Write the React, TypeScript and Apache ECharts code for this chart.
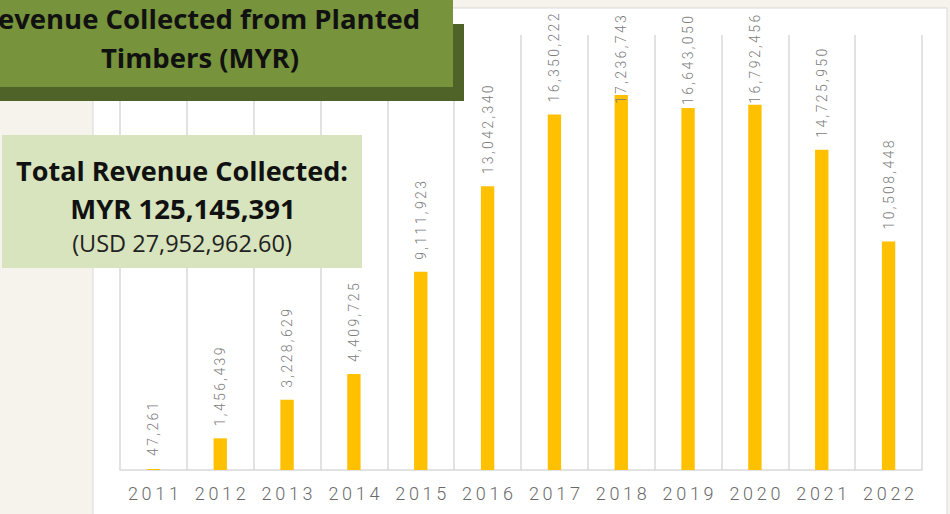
import React, { useEffect, useRef } from "react";
import * as echarts from "echarts";

const years = ["2011", "2012", "2013", "2014", "2015", "2016", "2017", "2018", "2019", "2020", "2021", "2022"];
const revenue = [47261, 1456439, 3228629, 4409725, 9111923, 13042340, 16350222, 17236743, 16643050, 16792456, 14725950, 10508448];
// label distance tweaks for labels that would overflow the top of the plot
const labelDistance = [13, 12, 12, 12, 12, 12, 12, -9, 3, 1, 12, 12];

const titleText = "Revenue Collected from Planted\nTimbers (MYR)";
const totalLine1 = "Total Revenue Collected:";
const totalLine2 = "MYR 125,145,391";
const totalLine3 = "(USD 27,952,962.60)";

const spaced = (s: string, sp: string) => s.split("").join(sp);

export default function App() {
  const ref = useRef<HTMLDivElement>(null);
  useEffect(() => {
    document.body.style.margin = "0";
    const chart = echarts.init(ref.current!, null, { renderer: "svg" });
    chart.setOption({
      animation: false,
      backgroundColor: "#f6f2ec",
      grid: { left: 120, right: 28, top: 35, bottom: 44 },
      xAxis: {
        type: "category",
        data: years,
        axisLine: { lineStyle: { color: "#d9d9d9", width: 1.5 } },
        axisTick: { show: false },
        splitLine: { show: true, lineStyle: { color: "#d9d9d9", width: 1.5 } },
        axisLabel: {
          color: "#6a6a6a",
          fontSize: 18,
          fontFamily: "Roboto",
          fontWeight: 300,
          margin: 14,
          formatter: (v: string) => spaced(v, "\u2009"),
        },
      },
      yAxis: {
        type: "value",
        min: 0,
        max: 20000000,
        show: false,
        splitLine: { show: false },
      },
      series: [
        {
          type: "bar",
          barWidth: "20%",
          itemStyle: { color: "#ffc000" },
          data: revenue.map((v, i) => ({
            value: v,
            label: { distance: labelDistance[i] },
          })),
          label: {
            show: true,
            position: "top",
            rotate: 90,
            align: "left",
            verticalAlign: "middle",
            color: "#7c7c7c",
            fontSize: 14,
            fontFamily: "Roboto",
            fontWeight: 300,
            formatter: (p: any) => spaced(p.value.toLocaleString("en-US"), "\u2006"),
          },
        },
      ],
      graphic: [
        {
          type: "rect",
          z: -10,
          shape: { x: 93, y: 8, width: 854, height: 520 },
          style: { fill: "#ffffff", stroke: "#d9d9d9", lineWidth: 1 },
        },
        {
          type: "rect",
          z: 100,
          shape: { x: -60, y: 24, width: 524, height: 77 },
          style: { fill: "#4f6228" },
        },
        {
          type: "rect",
          z: 101,
          shape: { x: -60, y: -5, width: 513, height: 92 },
          style: { fill: "#77933c" },
        },
        {
          type: "text",
          z: 102,
          x: 200,
          y: -1,
          style: {
            text: titleText,
            align: "center",
            verticalAlign: "top",
            fontSize: 27.5,
            fontWeight: 700,
            fontFamily: "Open Sans",
            lineHeight: 39,
            fill: "#111111",
          },
        },
        {
          type: "rect",
          z: 100,
          shape: { x: 2, y: 135, width: 360, height: 133 },
          style: { fill: "#d7e4bd" },
        },
        {
          type: "text",
          z: 102,
          x: 182,
          y: 170,
          style: {
            text: totalLine1,
            align: "center",
            verticalAlign: "middle",
            fontSize: 27,
            fontWeight: 700,
            fontFamily: "Open Sans",
            fill: "#111111",
          },
        },
        {
          type: "text",
          z: 102,
          x: 183,
          y: 208,
          style: {
            text: totalLine2,
            align: "center",
            verticalAlign: "middle",
            fontSize: 27.5,
            fontWeight: 700,
            fontFamily: "Open Sans",
            fill: "#111111",
          },
        },
        {
          type: "text",
          z: 102,
          x: 182,
          y: 243,
          style: {
            text: totalLine3,
            align: "center",
            verticalAlign: "middle",
            fontSize: 23.5,
            fontWeight: 400,
            fontFamily: "Open Sans",
            fill: "#222222",
          },
        },
      ],
    });
    return () => chart.dispose();
  }, []);
  return <div ref={ref} style={{ position: "fixed", left: 0, top: 0, width: 950, height: 514 }} />;
}
